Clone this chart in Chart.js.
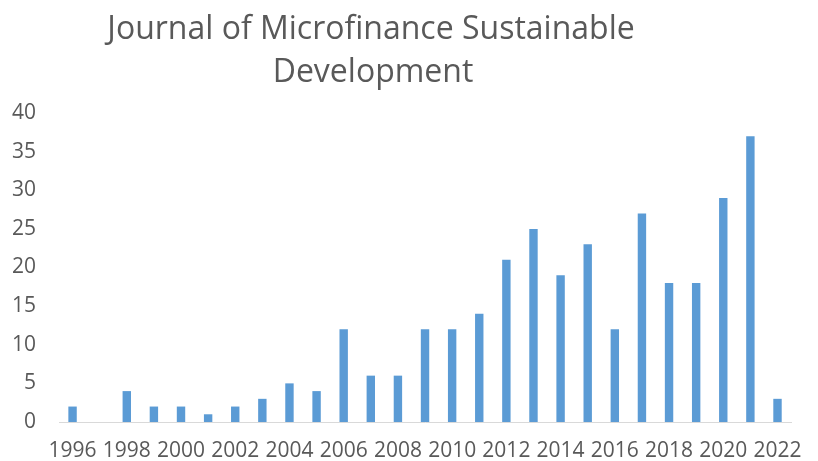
<!DOCTYPE html>
<html><head><meta charset="utf-8">
<script src="https://cdn.jsdelivr.net/npm/chart.js@4"></script>
<style>html,body{margin:0;padding:0;background:#fff}</style>
</head><body>
<canvas id="c" width="818" height="461"></canvas>
<script>
const titleLines = ["Journal of Microfinance Sustainable", "Development"];
const years = ["1996","1997","1998","1999","2000","2001","2002","2003","2004","2005","2006","2007","2008","2009","2010","2011","2012","2013","2014","2015","2016","2017","2018","2019","2020","2021","2022"];
const counts = [2,0,4,2,2,1,2,3,5,4,12,6,6,12,12,14,21,25,19,23,12,27,18,18,29,37,3];
const yTicks = [0,5,10,15,20,25,30,35,40];

const FONT = "'Open Sans', sans-serif";
const titlePlugin = {
  id: 'titleLines',
  afterDraw(chart) {
    const ctx = chart.ctx;
    ctx.save();
    ctx.fillStyle = '#595959';
    ctx.font = "32px " + FONT;
    ctx.textAlign = 'center';
    ctx.textBaseline = 'middle';
    ctx.fillText(titleLines[0], 371, 30);
    ctx.fillText(titleLines[1], 373, 73);
    ctx.restore();
  }
};

new Chart(document.getElementById('c'), {
  type: 'bar',
  data: { labels: years, datasets: [{ data: counts, backgroundColor: '#5B9BD5', borderWidth: 0, barPercentage: 0.31, categoryPercentage: 1 }] },
  options: {
    responsive: false, devicePixelRatio: 1, animation: false,
    layout: { padding: { top: 113, right: 26, left: 0, bottom: 0 } },
    plugins: { legend: { display: false }, title: { display: false }, tooltip: { enabled: false } },
    scales: {
      x: {
        offset: true,
        grid: { display: false, drawTicks: false },
        border: { display: true, color: '#D9D9D9', width: 1 },
        ticks: { autoSkip: false, maxRotation: 0, minRotation: 0, padding: 16, color: '#595959', font: { family: FONT, size: 21 },
          callback: (v, i) => (i % 2 === 0 ? years[i] : '') },
        afterFit: s => { s.height = 39; }
      },
      y: {
        min: 0, max: 40,
        grid: { display: false, drawTicks: false },
        border: { display: false },
        afterBuildTicks: s => { s.ticks = yTicks.map(v => ({ value: v })); },
        ticks: { padding: 23, color: '#595959', font: { family: FONT, size: 21 } },
        afterFit: s => { s.width = 59; }
      }
    }
  },
  plugins: [titlePlugin]
});
</script>
</body></html>
